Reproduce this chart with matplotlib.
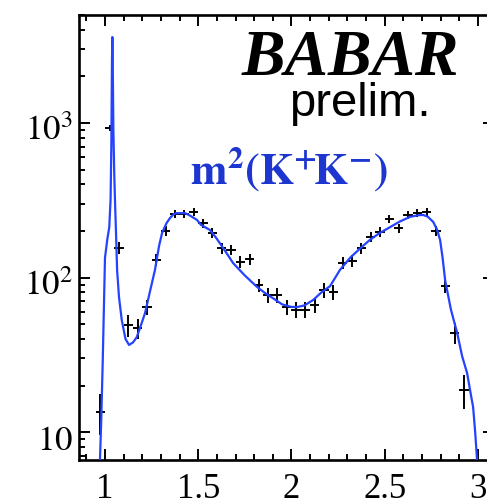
import matplotlib
matplotlib.use("Agg")
import matplotlib.pyplot as plt
import matplotlib.transforms as mtrans
from matplotlib.ticker import FixedLocator, MultipleLocator, LogLocator, NullFormatter

plt.rcParams['mathtext.fontset'] = 'stix'

# data points (bin centres, counts, errors)
m2_pts = [0.975, 1.025, 1.075, 1.125, 1.175, 1.225, 1.275, 1.325, 1.375, 1.425,
          1.475, 1.525, 1.575, 1.625, 1.675, 1.725, 1.775, 1.825, 1.875, 1.925,
          1.975, 2.025, 2.075, 2.125, 2.175, 2.225, 2.275, 2.325, 2.375, 2.425,
          2.475, 2.525, 2.575, 2.625, 2.675, 2.725, 2.775, 2.825, 2.875, 2.925]
counts = [13.5, 930, 155, 49, 47, 64, 130, 200, 258, 258,
          265, 225, 194, 155, 151, 126, 132, 89, 77, 77,
          64, 62, 62, 66, 83, 80, 124, 128, 155, 183,
          197, 239, 209, 254, 261, 265, 200, 88, 44, 18.7]
errs = [4, 45, 14, 8, 7, 7, 11, 14, 16, 16,
        16, 15, 14, 12, 12, 11, 11, 9, 9, 9,
        7, 7, 7, 7, 9, 9, 11, 11, 12, 13,
        14, 15, 14, 16, 16, 16, 14, 9, 7, 4.7]
bin_half = 0.025

# fit curve
fit_x = [0.972, 0.98, 0.988, 1.0, 1.012, 1.023, 1.030, 1.034, 1.0375, 1.0395,
         1.0415, 1.045, 1.050, 1.055, 1.060, 1.065, 1.075, 1.09, 1.11, 1.129,
         1.15, 1.17, 1.195, 1.215, 1.24, 1.268, 1.29, 1.306, 1.33, 1.349,
         1.37, 1.386, 1.43, 1.46, 1.493, 1.515, 1.563, 1.6, 1.65, 1.687,
         1.75, 1.815, 1.86, 1.90, 1.95, 2.0, 2.03, 2.07, 2.116, 2.16,
         2.207, 2.26, 2.314, 2.37, 2.42, 2.47, 2.529, 2.58, 2.636, 2.68,
         2.706, 2.73, 2.76, 2.78, 2.797, 2.81, 2.824, 2.855, 2.888, 2.915,
         2.942, 2.96, 2.974, 2.985, 2.992, 2.997]
fit_y = [6.0, 12, 29, 134, 175, 212, 320, 700, 2500, 3600,
         2500, 900, 450, 280, 180, 112, 75, 53, 40, 36.6,
         38, 41, 50, 59, 80, 112, 160, 194, 225, 243,
         258, 261, 261, 250, 236, 219, 203, 178, 145, 124,
         103, 87, 79, 73.6, 67, 64.5, 64.4, 66, 71.5, 80,
         88, 112, 134, 155, 175, 193, 212, 230, 247, 253,
         254, 248, 229, 205, 175, 135, 96, 62, 44, 31,
         24, 18, 14.5, 10, 7.5, 6.0]

xticks = [1, 1.5, 2, 2.5, 3]
xtick_labels = ['1', '1.5', '2', '2.5', '3']
yticks = [10, 100, 1000]
ytick_labels = [r'$10$', r'$10^2$', r'$10^3$']

W, H = 487, 498
fig = plt.figure(figsize=(W / 100, H / 100), dpi=100)
ax = fig.add_axes([78.5 / W, 1 - 459.5 / H, (494 - 78.5) / W, (459.5 - 15) / H])

ax.plot(fit_x, fit_y, color='#2442ff', lw=1.6, zorder=3)
ax.errorbar(m2_pts, counts, xerr=bin_half, yerr=errs, fmt='none',
            ecolor='black', elinewidth=1.4, capsize=0, zorder=2)

ax.set_yscale('log')
ax.set_xlim(0.858, 3.086)
ax.set_ylim(6.64, 5000)

ax.xaxis.set_major_locator(FixedLocator(xticks))
ax.set_xticklabels(xtick_labels)
ax.xaxis.set_minor_locator(MultipleLocator(0.1))
ax.yaxis.set_major_locator(FixedLocator(yticks))
ax.set_yticklabels(ytick_labels)
ax.yaxis.set_minor_locator(LogLocator(base=10, subs=range(2, 10)))
ax.yaxis.set_minor_formatter(NullFormatter())

for sp in ax.spines.values():
    sp.set_linewidth(1.9)
ax.tick_params(which='both', direction='in', top=True, right=True, width=1.4,
               labelsize=25)
ax.tick_params(which='major', length=8)
ax.tick_params(which='minor', length=4.5)
ax.tick_params(axis='x', pad=9.5)
ax.tick_params(axis='y', pad=4)
for lab in ax.get_xticklabels() + ax.get_yticklabels():
    lab.set_fontfamily('Liberation Serif')
shift = mtrans.ScaledTranslation(0, -5 / 100, fig.dpi_scale_trans)
for lab in ax.get_yticklabels():
    lab.set_transform(lab.get_transform() + shift)

fig.text(350 / W, 1 - 75 / H, 'BABAR', family='Liberation Serif', weight='bold',
         style='italic', fontsize=47, ha='center', va='baseline')
fig.text(360 / W, 1 - 116 / H, 'prelim.', family='Liberation Sans', fontsize=34,
         ha='center', va='baseline')
fig.text(289 / W, 1 - 185 / H, r'$\mathbf{m^{2}(K^{+}\!K^{-})}$', color='#1c36cf',
         fontsize=31.5, ha='center', va='baseline')

fig.savefig('out.png', dpi=100)
